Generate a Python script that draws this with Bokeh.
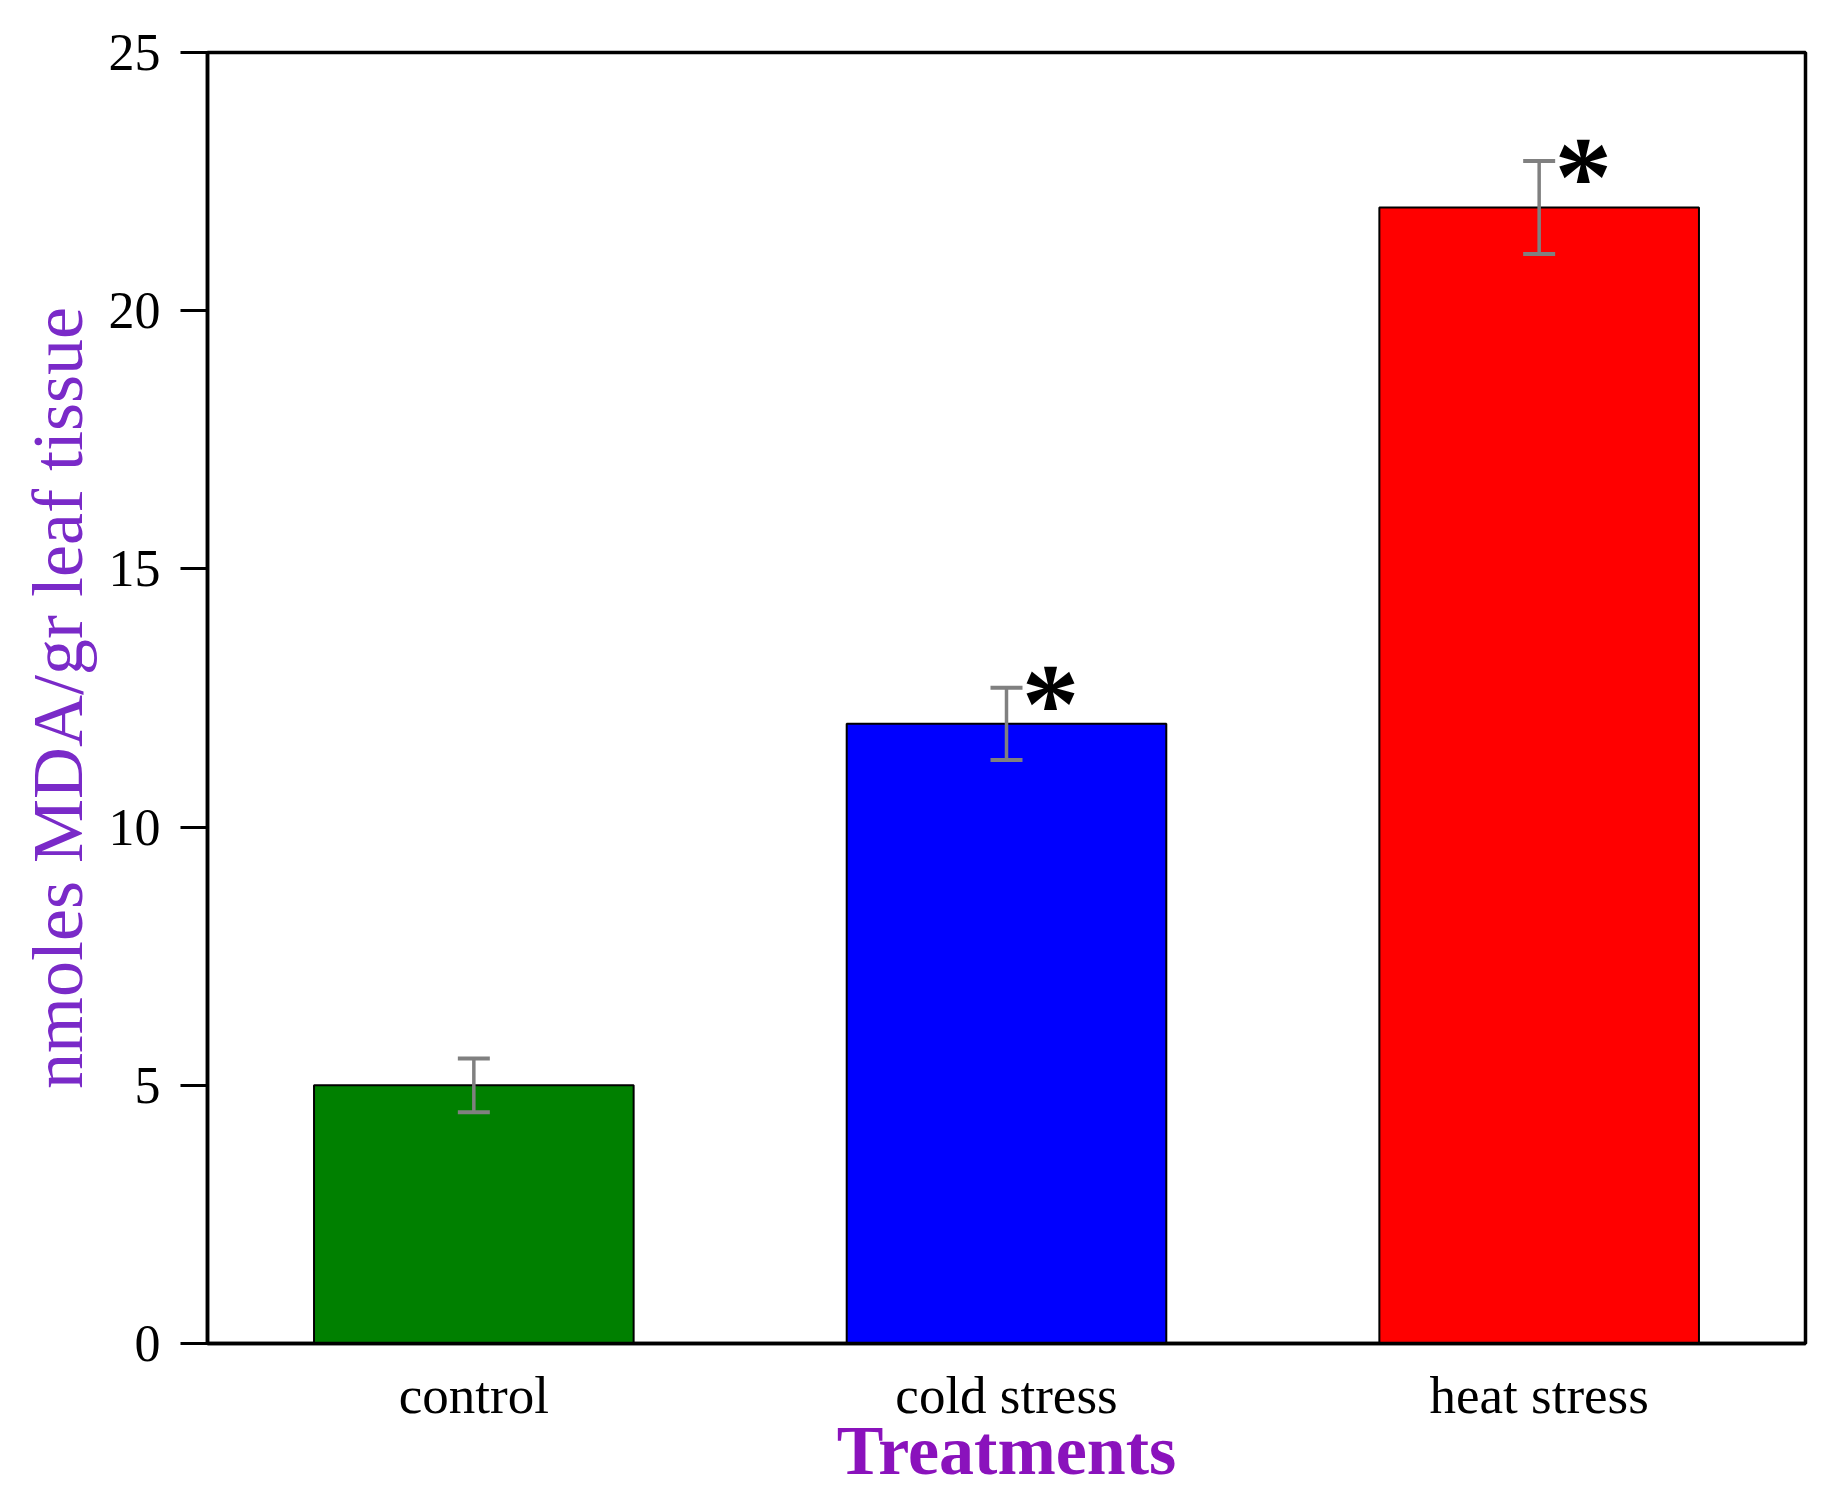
from bokeh.plotting import figure
from bokeh.models import ColumnDataSource, Whisker, TeeHead, FactorRange, Range1d
from bokeh.embed import file_html
from bokeh.resources import INLINE

treatments = ["control", "cold stress", "heat stress"]
mda = [5.0, 12.0, 22.0]
err = [0.52, 0.7, 0.9]
bar_colors = ["#008000", "#0000FF", "#FF0000"]
signif = ["", "*", "*"]
y_ticks = [0, 5, 10, 15, 20, 25]

src = ColumnDataSource(dict(
    x=treatments, top=mda, color=bar_colors,
    upper=[m + e for m, e in zip(mda, err)],
    lower=[m - e for m, e in zip(mda, err)],
    star=signif,
))

p = figure(
    x_range=FactorRange(*treatments), y_range=Range1d(0, 25),
    frame_width=1598, frame_height=1291,
    min_border_left=207, min_border_top=52, min_border_right=12, min_border_bottom=151,
    output_backend="svg", toolbar_location=None,
)
p.background_fill_color = "white"
p.border_fill_color = "white"
p.grid.visible = False
p.outline_line_color = "black"
p.outline_line_width = 3.5

p.vbar(x="x", top="top", width=0.6, source=src, fill_color="color",
       line_color="black", line_width=2)

wh = Whisker(base="x", upper="upper", lower="lower", source=src,
             line_color="#808080", line_width=3.5, level="overlay",
             upper_head=TeeHead(size=32, line_color="#808080", line_width=4),
             lower_head=TeeHead(size=32, line_color="#808080", line_width=4))
p.add_layout(wh)

p.text(x="x", y="upper", text="star", source=src, x_offset=44, y_offset=16,
       text_align="center", text_baseline="middle",
       text_font="Liberation Serif", text_font_style="bold",
       text_font_size="115px", text_color="black")

# y axis
p.yaxis.ticker = y_ticks
p.yaxis.ticker.num_minor_ticks = 2
p.yaxis.axis_line_width = 3.5
p.yaxis.major_tick_line_width = 3
p.yaxis.minor_tick_line_width = 3
p.yaxis.major_tick_out = 27
p.yaxis.major_tick_in = 0
p.yaxis.minor_tick_out = 14
p.yaxis.minor_tick_in = 0
p.yaxis.major_label_text_font = "Liberation Serif"
p.yaxis.major_label_text_font_size = "52px"
p.yaxis.major_label_text_color = "black"
p.yaxis.major_label_standoff = 20
p.yaxis.axis_label = "nmoles MDA/gr leaf tissue"
p.yaxis.axis_label_text_font = "Liberation Serif"
p.yaxis.axis_label_text_font_style = "normal"
p.yaxis.axis_label_text_font_size = "72px"
p.yaxis.axis_label_text_color = "#7A2AC8"
p.yaxis.axis_label_standoff = 8

# x axis
p.xaxis.axis_line_width = 3.5
p.xaxis.major_tick_out = 0
p.xaxis.major_tick_in = 0
p.xaxis.minor_tick_out = 0
p.xaxis.major_label_text_font = "Liberation Serif"
p.xaxis.major_label_text_font_size = "53px"
p.xaxis.major_label_text_color = "black"
p.xaxis.major_label_standoff = 22
p.xaxis.axis_label = "Treatments"
p.xaxis.axis_label_text_font = "Liberation Serif"
p.xaxis.axis_label_text_font_style = "bold"
p.xaxis.axis_label_text_font_size = "70px"
p.xaxis.axis_label_text_color = "#8A12BC"
p.xaxis.axis_label_standoff = -15

open("out.html", "w").write(file_html(p, INLINE))
